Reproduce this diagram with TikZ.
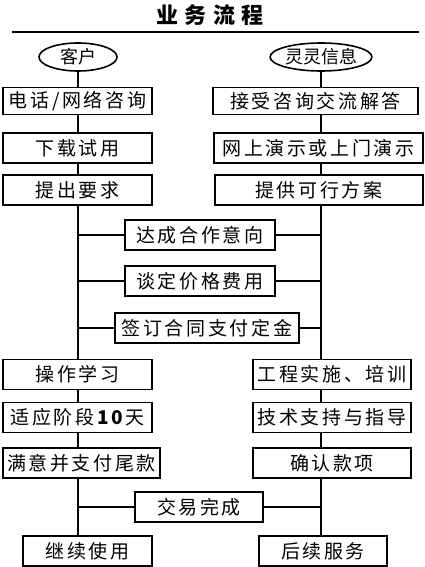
\documentclass[tikz,border=0pt]{standalone}
\usepackage{fontspec}
\setmainfont{Noto Sans CJK SC}
\newfontfamily\boxfont[LetterSpace=14]{Noto Sans CJK SC}
\newfontfamily\titlefont[LetterSpace=28]{Noto Sans CJK SC}
\usetikzlibrary{shapes.geometric}

\tikzset{
  stepbox/.style={draw, line width=1.6pt, fill=white, inner sep=0pt,
    minimum height=30pt, font=\boxfont\fontsize{19}{19}\selectfont},
  party/.style={draw, ellipse, line width=1.6pt, inner sep=0pt,
    minimum height=28pt, font=\fontsize{18}{18}\selectfont},
  link/.style={line width=1.6pt}
}

\begin{document}
\begin{tikzpicture}[x=1pt, y=-1pt]
\useasboundingbox (0,0) rectangle (425,567);

% =====================
% Titolo
% =====================
\node[font=\titlefont\bfseries\fontsize{22}{22}\selectfont] (title) at (210,15) {业务流程};
\draw[line width=2.4pt] (12,32) -- (419,32);

% =====================
% Cliente (sinistra)
% =====================
\node[party, minimum width=78pt] (cust) at (78,57) {客户};
\node[stepbox, minimum width=149pt, minimum height=27pt] (lcons) at (77.5,101) {电话/网络咨询};
\node[stepbox, minimum width=149pt] (ltrial) at (77.5,148) {下载试用};
\node[stepbox, minimum width=149pt] (lreq) at (77.5,190) {提出要求};
\node[stepbox, minimum width=149pt] (llearn) at (77.5,374.5) {操作学习};
\node[stepbox, minimum width=149pt] (ladapt) at (77.5,417.5) {适应阶段\textbf{10}天};
\node[stepbox, minimum width=157pt] (lpay) at (81.5,463) {满意并支付尾款};
\node[stepbox, minimum width=129pt] (lcont) at (87.5,551) {继续使用};

% =====================
% Azienda (destra)
% =====================
\node[party, minimum width=100pt] (ling) at (321,57) {灵灵信息};
\node[stepbox, minimum width=205pt, minimum height=27pt] (rans) at (315.5,101) {接受咨询交流解答};
\node[stepbox, minimum width=209pt] (rdemo) at (318.5,148) {网上演示或上门演示};
\node[stepbox, minimum width=208pt] (rplan) at (319,190) {提供可行方案};
\node[stepbox, minimum width=158pt] (rimpl) at (332,374.5) {工程实施、培训};
\node[stepbox, minimum width=158pt] (rsupp) at (332,417.5) {技术支持与指导};
\node[stepbox, minimum width=158pt] (rconf) at (332,463) {确认款项};
\node[stepbox, minimum width=128pt] (rserv) at (323,551) {后续服务};

% =====================
% Passi comuni
% =====================
\node[stepbox, minimum width=150pt] (agree) at (200,235) {达成合作意向};
\node[stepbox, minimum width=150pt] (price) at (200,281) {谈定价格费用};
\node[stepbox, minimum width=184pt] (sign) at (207,328) {签订合同支付定金};
\node[stepbox, minimum width=128pt] (done) at (199,507) {交易完成};

% =====================
% Collegamenti
% =====================
\foreach \a/\b in {cust/lcons, lcons/ltrial, ltrial/lreq, lreq/llearn,
                   llearn/ladapt, ladapt/lpay, lpay/lcont}
  \draw[link] (\a.south -| cust.south) -- (\b.north -| cust.south);

\foreach \a/\b in {ling/rans, rans/rdemo, rdemo/rplan, rplan/rimpl,
                   rimpl/rsupp, rsupp/rconf, rconf/rserv}
  \draw[link] (\a.south -| ling.south) -- (\b.north -| ling.south);

\foreach \m in {agree, price, sign, done} {
  \draw[link] (\m.west) -- (\m.west -| cust.south);
  \draw[link] (\m.east) -- (\m.east -| ling.south);
}

\end{tikzpicture}
\end{document}
